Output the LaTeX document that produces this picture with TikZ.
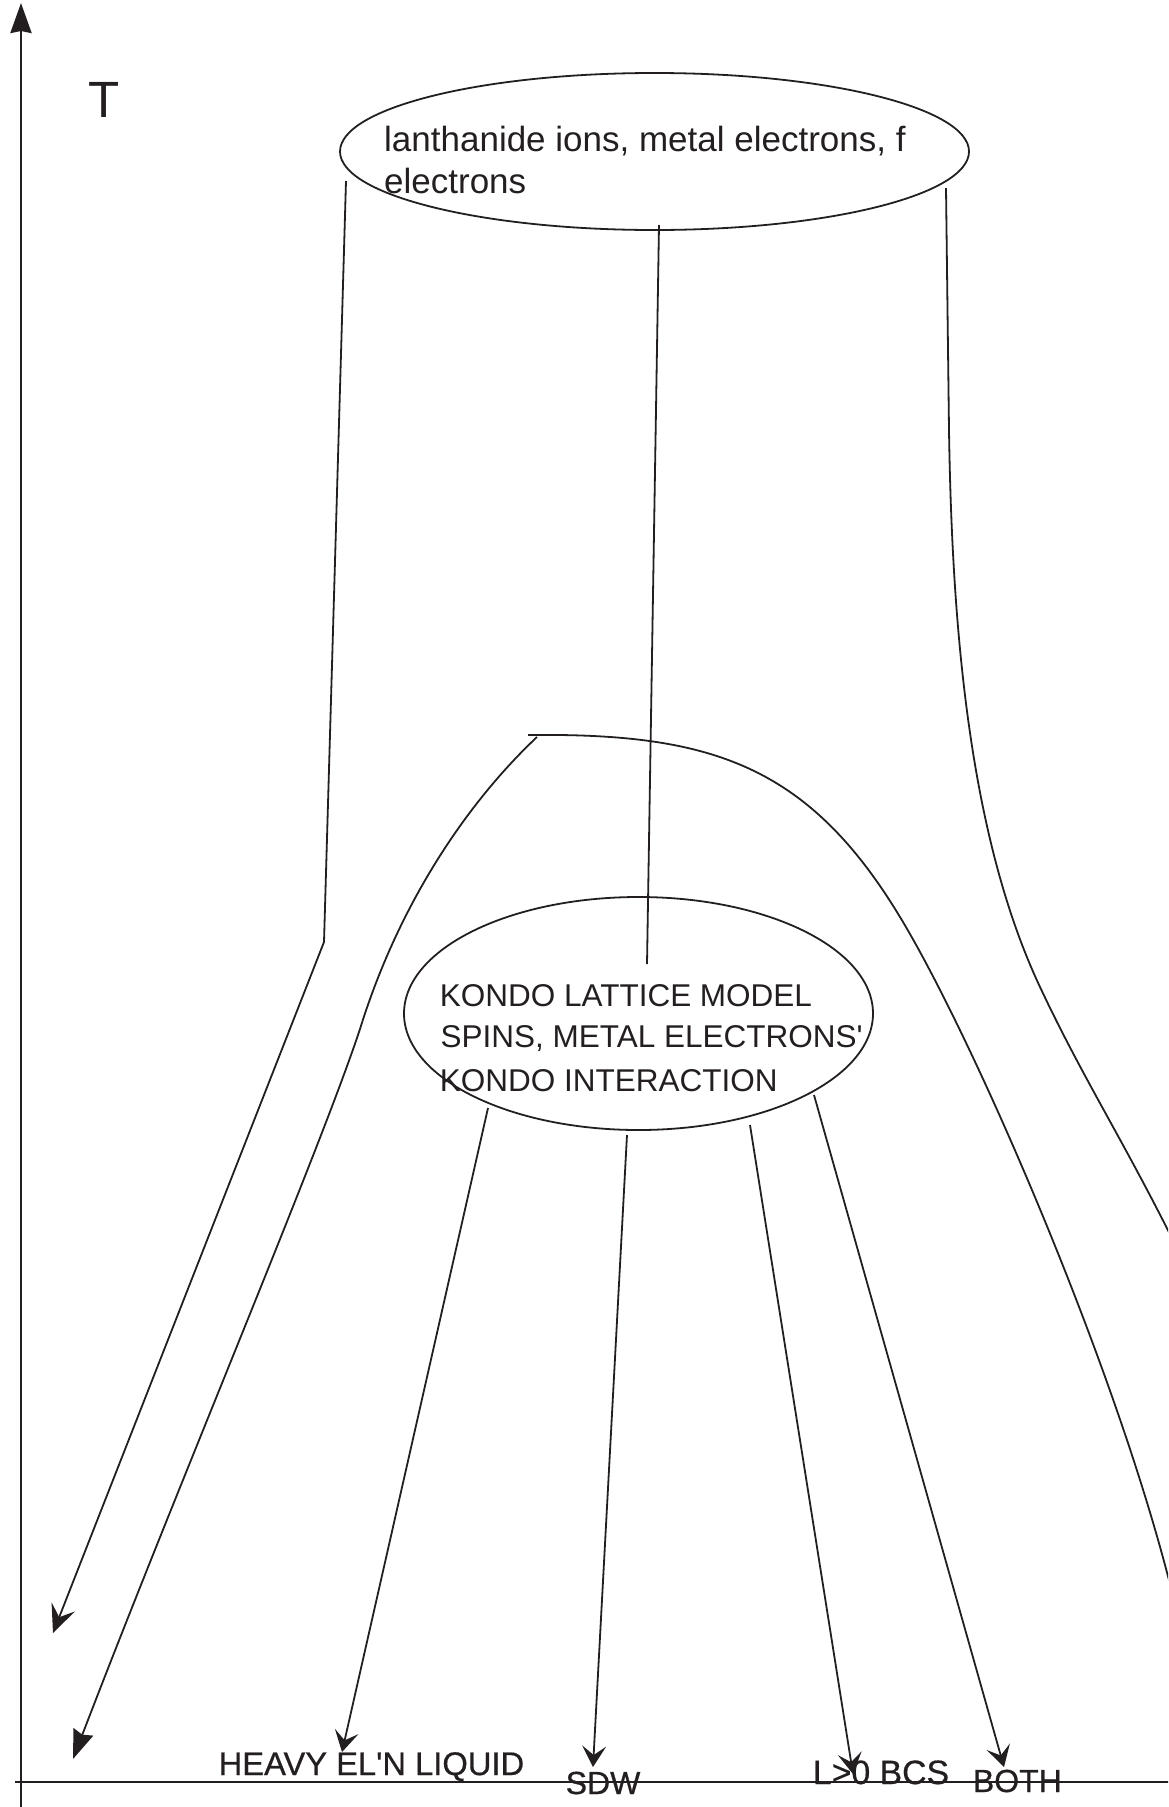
\documentclass[tikz,border=0pt]{standalone}
\usepackage{fontspec}
\setmainfont{Liberation Sans}
\newfontfamily\botfont{Liberation Sans}[FakeBold=0.6]
\usetikzlibrary{arrows.meta,shapes.geometric}
\definecolor{ink}{RGB}{35,31,32}
\begin{document}
\begin{tikzpicture}[x=1pt,y=-1pt,
  line/.style={line width=1.8pt, draw=ink},
  axis/.style={line width=2.6pt, draw=ink},
  lbl/.style={inner sep=0pt, anchor=base west, text=ink},
  toptxt/.style={lbl, font=\fontsize{35}{42}\selectfont},
  midtxt/.style={lbl, font=\fontsize{31.5}{40}\selectfont},
  bottxt/.style={lbl, font=\botfont\fontsize{32}{38}\selectfont},
  oval/.style={ellipse, draw=ink, line width=1.8pt, inner sep=0pt},
  tipsmall/.style={-{Stealth[length=21pt,width=24pt,inset=9pt]}},
  tipleft/.style={-{Stealth[length=28pt,width=25pt,inset=11pt]}},
  tipfull/.style={-{Stealth[length=29pt,width=21pt,inset=3pt]}},
  tipaxis/.style={-{Stealth[length=30pt,width=21pt,inset=2pt]}}
]
\useasboundingbox (0,0) rectangle (1168,1807);
\clip (0,0) rectangle (1168,1807);

% axes
\coordinate (ybot) at (21,1807);
\coordinate (ytop) at (21,3);
\coordinate (xl) at (15,1782);
\coordinate (xr) at (1170,1782);
\draw[axis, tipaxis] (ybot) -- (ytop);
\draw[axis] (xl) -- (xr);
\node[lbl, font=\fontsize{51}{60}\selectfont] (T) at (88.5,117) {T};

% top ellipse
\node[oval, minimum width=629pt, minimum height=157pt] (top) at (654.5,151.5) {};
\node[toptxt] (toptextA) at (384,151) {lanthanide ions, metal electrons, f};
\node[toptxt] (toptextB) at (384,193) {electrons};

% Kondo ellipse
\node[oval, minimum width=469pt, minimum height=233pt] (kondo) at (638.5,1013.5) {};
\node[midtxt] (kA) at (439.6,1006) {KONDO LATTICE MODEL};
\node[midtxt] (kB) at (440.5,1047.5) {SPINS, METAL ELECTRONS\textquotesingle};
\node[midtxt] (kC) at (439.6,1091) {KONDO INTERACTION};

% bottom labels
\node[bottxt, font=\botfont\fontsize{32.7}{38}\selectfont] (heavy) at (218.5,1775) {HEAVY EL\textquotesingle N LIQUID};
\node[bottxt] (sdw) at (565.5,1794) {SDW};
\node[bottxt, font=\botfont\fontsize{33.8}{38}\selectfont] (bcs) at (812.7,1784) {L>0 BCS};
\node[bottxt] (both) at (972.7,1792) {BOTH};

% connectors from top ellipse
\coordinate (tl) at (346,181);
\coordinate (tlk) at (324,942);
\coordinate (tlend) at (53,1633);
\draw[line, tipleft] (tl) -- (tlk) -- (tlend);

\coordinate (tc) at (659,225);
\coordinate (kc) at (647,964);
\draw[line] (tc) -- (kc);

\coordinate (tr) at (946,188);
\coordinate (trend) at (1190,1275);
\draw[line] (tr) -- (949,430) .. controls (952,630) and (969.5,837) .. (1040,987)
  .. controls (1087,1087) and (1130,1150) .. (trend);

% dome
\coordinate (domestart) at (528,735);
\coordinate (domeend) at (1185,1650);
\draw[line] (domestart) .. controls (708,733) and (807,763) .. (900,917)
  .. controls (977.7,1045) and (1140,1420) .. (domeend);
\coordinate (branchstart) at (537,737);
\coordinate (branchend) at (73,1759);
\draw[line, tipfull] (branchstart) .. controls (470,800) and (400,900) .. (360,1029)
  .. controls (320,1150) and (180,1480) .. (branchend);

% connectors from Kondo ellipse
\coordinate (ka) at (488,1108);
\coordinate (kb) at (627,1135);
\coordinate (kcc) at (750,1125);
\coordinate (kd) at (814,1095);
\coordinate (ea) at (342,1752);
\coordinate (eb) at (593,1767);
\coordinate (ec) at (853,1774);
\coordinate (ed) at (1004,1767);
\draw[line, tipsmall] (ka) -- (ea);
\draw[line, tipsmall] (kb) -- (eb);
\draw[line, tipsmall] (kcc) -- (ec);
\draw[line, tipsmall] (kd) -- (ed);
\end{tikzpicture}
\end{document}
